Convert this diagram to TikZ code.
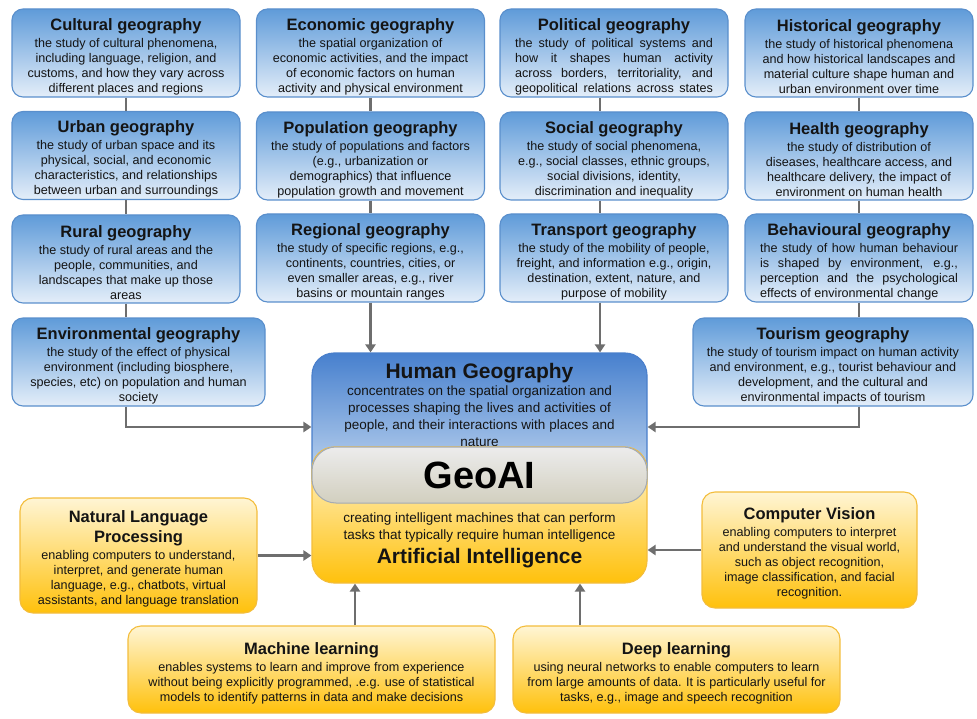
\documentclass[tikz,border=0pt]{standalone}
\usepackage{fontspec}
\setmainfont{Liberation Sans}
\usetikzlibrary{arrows.meta,positioning}

\definecolor{geoline}{HTML}{5A8FCC}
\definecolor{geotop}{HTML}{5F9BD9}
\definecolor{geobot}{HTML}{E4EEF9}
\definecolor{hgline}{HTML}{4A7FCB}
\definecolor{hgtop}{HTML}{4780CE}
\definecolor{hgbot}{HTML}{D4E4F5}
\definecolor{ailine}{HTML}{F3BD3C}
\definecolor{aitop}{HTML}{FFF5D4}
\definecolor{aibot}{HTML}{FFC10C}
\definecolor{geoaitop}{HTML}{ECECEC}
\definecolor{geoaibot}{HTML}{D2CFBF}
\definecolor{geoailine}{HTML}{A4ABB3}
\definecolor{linkgray}{HTML}{6E6E6E}
\definecolor{txt}{HTML}{141414}

\newcommand{\titlefont}{\fontsize{16.5}{18}\selectfont\bfseries}
\newcommand{\boxtitle}[1]{{\titlefont\rule{0pt}{19pt}#1}}
\newcommand{\bigtitle}[1]{{\fontsize{21}{23}\selectfont\bfseries #1}}
\newcommand{\jline}[1]{\makebox[198pt][s]{#1}}

\tikzset{
  geobox/.style={draw=geoline, line width=1.1pt, rounded corners=11pt,
    top color=geotop, bottom color=geobot, align=center, text=txt,
    font=\fontsize{12.6}{15}\selectfont, inner sep=2pt,
    minimum width=228pt, minimum height=88pt},
  aibox/.style={draw=ailine, line width=1.1pt, rounded corners=13pt,
    top color=aitop, bottom color=aibot, align=center, text=txt,
    font=\fontsize{12.6}{15}\selectfont, inner sep=2pt},
  bodytext/.style={align=center, text=txt, font=\fontsize{13.5}{17}\selectfont},
  linkline/.style={draw=linkgray, line width=2.8pt},
  link/.style={linkline, -{Triangle[width=10pt,length=8pt]}}
}

\begin{document}
\begin{tikzpicture}[x=1pt,y=-1pt]
\useasboundingbox (0,0) rectangle (977,719);

% human geography branches
\node[geobox] (cultural) at (126,53) {\boxtitle{Cultural geography}\\[2pt]
  the study of cultural phenomena,\\ including language, religion, and\\
  customs, and how they vary across\\ different places and regions};
\node[geobox] (urban) at (126,155.5) {\boxtitle{Urban geography}\\[2pt]
  the study of urban space and its\\ physical, social, and economic\\
  characteristics, and relationships\\ between urban and surroundings};
\node[geobox] (rural) at (126,259) {\boxtitle{Rural geography}\\[2pt]
  the study of rural areas and the\\ people, communities, and\\
  landscapes that make up those\\ areas};
\node[geobox, minimum width=253pt] (env) at (138.5,362) {\boxtitle{Environmental geography}\\[2pt]
  the study of the effect of physical\\ environment (including biosphere,\\
  species, etc) on population and human\\ society};

\node[geobox] (economic) at (370.5,53) {\boxtitle{Economic geography}\\[2pt]
  the spatial organization of\\ economic activities, and the impact\\
  of economic factors on human\\ activity and physical environment};
\node[geobox] (population) at (370.5,156) {\boxtitle{Population geography}\\[2pt]
  the study of populations and factors\\ (e.g., urbanization or\\
  demographics) that influence\\ population growth and movement};
\node[geobox] (regional) at (370.5,258) {\boxtitle{Regional geography}\\[2pt]
  the study of specific regions, e.g.,\\ continents, countries, cities, or\\
  even smaller areas, e.g., river\\ basins or mountain ranges};

\node[geobox] (political) at (614,53) {\boxtitle{Political geography}\\[2pt]
  \jline{the study of political systems and}\\ \jline{how it shapes human activity}\\
  \jline{across borders, territoriality, and}\\ \jline{geopolitical relations across states}};
\node[geobox] (social) at (614,156) {\boxtitle{Social geography}\\[2pt]
  the study of social phenomena,\\ e.g., social classes, ethnic groups,\\
  social divisions, identity,\\ discrimination and inequality};
\node[geobox] (transport) at (614,258) {\boxtitle{Transport geography}\\[2pt]
  the study of the mobility of people,\\ freight, and information e.g., origin,\\
  destination, extent, nature, and\\ purpose of mobility};

\node[geobox] (historical) at (859,53) {\boxtitle{Historical geography}\\[2pt]
  the study of historical phenomena\\ and how historical landscapes and\\
  material culture shape human and\\ urban environment over time};
\node[geobox] (health) at (859,156) {\boxtitle{Health geography}\\[2pt]
  the study of distribution of\\ diseases, healthcare access, and\\
  healthcare delivery, the impact of\\ environment on human health};
\node[geobox] (behavioural) at (859,258) {\boxtitle{Behavioural geography}\\[2pt]
  \jline{the study of how human behaviour}\\ \jline{is shaped by environment, e.g.,}\\
  \jline{perception and the psychological}\\ \makebox[198pt][l]{effects of environmental change}};
\node[geobox, minimum width=280pt] (tourism) at (833,362) {\boxtitle{Tourism geography}\\[2pt]
  the study of tourism impact on human activity\\ and environment, e.g., tourist behaviour and\\
  development, and the cultural and\\ environmental impacts of tourism};

% centre
\node[draw=hgline, line width=1.1pt, rounded corners=22pt, top color=hgtop, bottom color=hgbot,
  minimum width=335pt, minimum height=148pt] (hg) at (479.5,427) {};
\node[bodytext] (hgtext) at (479.5,405) {\bigtitle{Human Geography}\\
  concentrates on the spatial organization and\\ processes shaping the lives and activities of\\
  people, and their interactions with places and\\ nature};
\node[aibox, rounded corners=22pt, minimum width=335pt, minimum height=136pt] (ai) at (479.5,515) {};
\node[draw=geoailine, line width=1pt, rounded corners=24pt, top color=geoaitop, bottom color=geoaibot,
  minimum width=335pt, minimum height=56pt, text=black, font=\fontsize{38}{40}\selectfont\bfseries] (geoai) at (479.5,475) {GeoAI};
\node[bodytext] (aitext) at (479.5,540.5) {creating intelligent machines that can perform\\
  tasks that typically require human intelligence\\[5pt] \bigtitle{Artificial Intelligence}};

% AI branches
\node[aibox, minimum width=237pt, minimum height=115pt] (nlp) at (138.5,555.5) {\boxtitle{Natural Language}\\[4pt] {\titlefont Processing}\\[2pt]
  enabling computers to understand,\\ interpret, and generate human\\
  language, e.g., chatbots, virtual\\ assistants, and language translation};
\node[aibox, minimum width=215pt, minimum height=116pt] (cv) at (809.5,550) {\boxtitle{Computer Vision}\\[2pt]
  enabling computers to interpret\\ and understand the visual world,\\
  such as object recognition,\\ image classification, and facial\\ recognition.};
\node[aibox, minimum width=367pt, minimum height=87pt] (ml) at (311.5,669.5) {\boxtitle{Machine learning}\\[2pt]
  enables systems to learn and improve from experience\\
  without being explicitly programmed, .e.g. use of statistical\\
  models to identify patterns in data and make decisions};
\node[aibox, minimum width=327pt, minimum height=87pt] (dl) at (676.5,669.5) {\boxtitle{Deep learning}\\[2pt]
  using neural networks to enable computers to learn\\
  from large amounts of data. It is particularly useful for\\
  tasks, e.g., image and speech recognition};

% connectors
\foreach \a/\b in {cultural/urban, urban/rural, economic/population, population/regional,
  historical/health, health/behavioural}
  \draw[linkline] (\a) -- (\b);
\draw[linkline] (rural.south) -- (rural.south |- env.north);
\draw[linkline] ([xshift=-14pt]political.south) -- ([xshift=-14pt]social.north);
\draw[linkline] ([xshift=-14pt]social.south) -- ([xshift=-14pt]transport.north);
\draw[linkline] (behavioural.south) -- (behavioural.south |- tourism.north);

\draw[link] (rural.south |- env.south) |- (hg.west);
\draw[link] (regional.south) -- (regional.south |- hg.north);
\draw[link] ([xshift=-14pt]transport.south) -- ([xshift=-14pt]transport.south |- hg.north);
\draw[link] (behavioural.south |- tourism.south) |- (hg.east);

\draw[link] (nlp.east) -- (nlp.east -| ai.west);
\draw[link] (cv.west) -- (cv.west -| ai.east);
\draw[link] ([xshift=43.5pt]ml.north) -- ([xshift=43.5pt]ml.north |- ai.south);
\draw[link] ([xshift=-96.5pt]dl.north) -- ([xshift=-96.5pt]dl.north |- ai.south);
\end{tikzpicture}
\end{document}
